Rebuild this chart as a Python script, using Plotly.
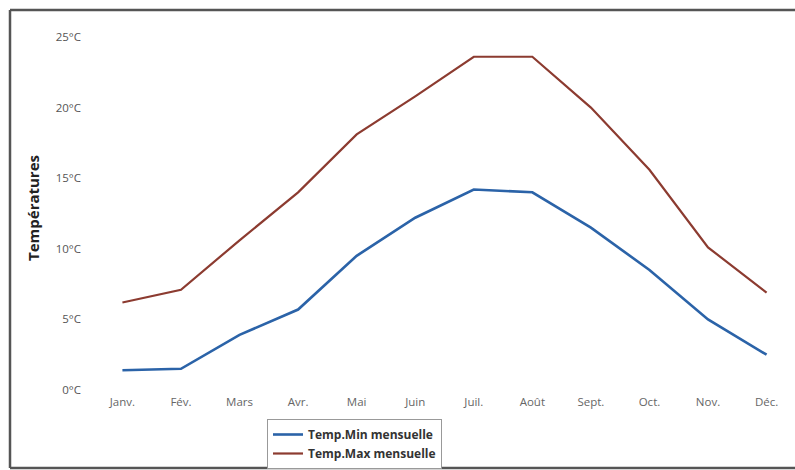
import plotly.graph_objects as go

# Monthly temperatures (°C)
months = ["Janv.", "Fév.", "Mars", "Avr.", "Mai", "Juin",
          "Juil.", "Août", "Sept.", "Oct.", "Nov.", "Déc."]
temp_min = [1.4, 1.5, 3.9, 5.7, 9.5, 12.2, 14.2, 14.0, 11.5, 8.5, 5.0, 2.5]
temp_max = [6.2, 7.1, 10.6, 14.0, 18.1, 20.8, 23.6, 23.6, 20.0, 15.6, 10.1, 6.9]
y_ticks = [0, 5, 10, 15, 20, 25]

W, H = 795, 470
ML, MR, MT, MB = 99, 5, 37, 80
pw, ph = W - ML - MR, H - MT - MB

def px_x(p):
    return (p - ML) / pw

def px_y(p):
    return (H - MB - p) / ph

x_idx = list(range(len(months)))

fig = go.Figure()
fig.add_trace(go.Scatter(
    x=x_idx, y=temp_min, mode="lines", name="Temp.Min mensuelle",
    line=dict(color="#2b63a8", width=2.6),
))
fig.add_trace(go.Scatter(
    x=x_idx, y=temp_max, mode="lines", name="Temp.Max mensuelle",
    line=dict(color="#8c3b30", width=2.2),
))

# open frame: top, left and bottom edges only
frame = [
    (10, 10, 800, 10),
    (10, 10, 10, 468),
    (10, 468, 800, 468),
]
shapes = [
    dict(type="line", xref="paper", yref="paper",
         x0=px_x(a), y0=px_y(b), x1=px_x(c), y1=px_y(d),
         line=dict(color="#555", width=2.5), layer="below")
    for a, b, c, d in frame
]

fig.update_layout(
    width=W, height=H,
    margin=dict(l=ML, r=MR, t=MT, b=MB, autoexpand=False),
    paper_bgcolor="white", plot_bgcolor="white",
    font=dict(family="Open Sans, Liberation Sans, sans-serif", color="#444"),
    xaxis=dict(
        range=[-0.4, 11.4], tickmode="array", tickvals=x_idx, ticktext=months,
        showgrid=False, zeroline=False, showline=False, automargin=False,
        tickfont=dict(size=11.5, color="#666"),
        ticklabelstandoff=3,
    ),
    yaxis=dict(
        range=[0, 25], tickmode="array", tickvals=y_ticks,
        ticktext=[f"{v}°C" for v in y_ticks],
        showgrid=False, zeroline=False, showline=False, automargin=False,
        tickfont=dict(size=11.5, color="#555"),
        ticklabelstandoff=17,
    ),
    showlegend=True,
    legend=dict(
        xref="container", yref="container",
        x=267 / W, y=(H - 419) / H, xanchor="left", yanchor="top",
        bgcolor="white", bordercolor="#999", borderwidth=1,
        font=dict(size=12, color="#333", family="Open Sans, sans-serif",
                  weight="bold"),
        tracegroupgap=0, itemwidth=30,
    ),
    shapes=shapes,
    annotations=[dict(
        text="<b>Températures</b>", xref="paper", yref="paper",
        x=px_x(33), y=px_y(208), xanchor="center", yanchor="middle",
        textangle=-90, showarrow=False,
        font=dict(size=15, color="#222"),
    )],
)

fig.write_html("out.html")
